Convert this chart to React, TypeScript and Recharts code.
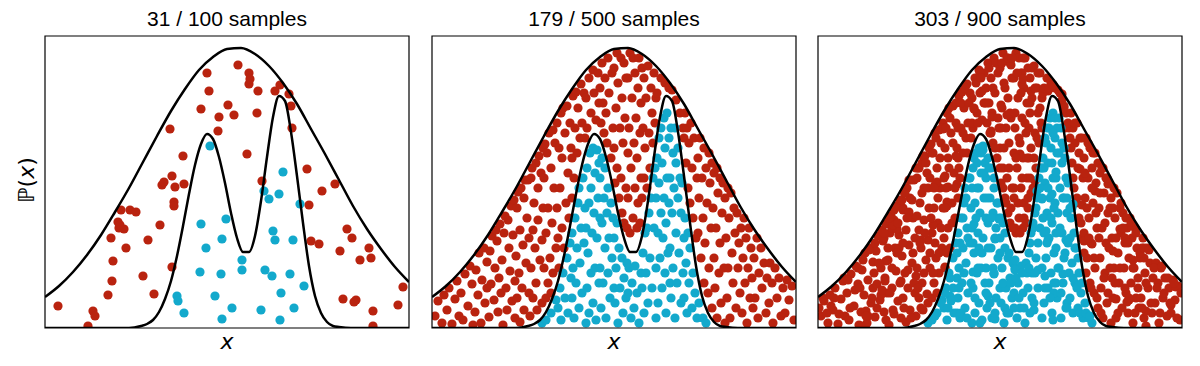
import React from "react";
import { ComposedChart, Scatter, Line, XAxis, YAxis, ReferenceArea } from "recharts";

const RED = "#b9230f";
const BLUE = "#13a9cc";

const PANEL_TITLES = ["31 / 100 samples", "179 / 500 samples", "303 / 900 samples"];

// proposal density (wide gaussian) and target density (two bumps)
const proposalCurve = [
  [0, 31], [14, 42], [28, 56], [42, 73], [56, 93], [70, 116], [84, 140], [98, 166], [112, 192],
  [126, 217], [140, 239], [154, 258], [168, 271], [182, 279], [196, 280], [210, 274], [224, 262],
  [238, 245], [252, 224], [266, 199], [280, 174], [294, 148], [308, 122], [322, 99], [336, 79],
  [350, 61], [364, 46],
];

const targetCurve = [
  [0, 0], [60, 0], [84, 0], [96, 2], [102, 4], [108, 8], [114, 16], [120, 29], [126, 47], [132, 72],
  [138, 102], [144, 134], [150, 163], [156, 184], [162, 194], [168, 189], [174, 171], [180, 145],
  [186, 115], [192, 90], [198, 76], [204, 76], [210, 92], [216, 127], [222, 171], [228, 211],
  [234, 232], [240, 227], [246, 196], [252, 152], [258, 105], [264, 62], [270, 32], [276, 15],
  [282, 6], [288, 2], [294, 1], [306, 0], [364, 0],
];

// first 100 samples
const firstRejected = [
  [162, 255], [164, 237], [156, 219], [183, 223], [174, 211], [173, 197], [125, 199], [138, 172], [127, 152],
  [117, 143], [130, 141], [139, 144], [129, 126], [76, 118], [85, 118], [91, 116], [73, 106], [74, 100],
  [79, 99], [115, 103], [66, 90], [103, 88], [81, 80], [68, 67], [127, 61], [98, 52], [67, 47], [109, 34],
  [63, 33], [13, 22], [48, 17], [50, 12], [43, 2],
  [193, 263], [204, 255], [204, 244], [213, 237], [230, 237], [235, 243], [244, 234], [246, 222], [189, 213],
  [212, 215], [247, 200], [202, 174], [262, 159], [217, 147], [290, 144], [277, 137], [264, 123], [302, 99],
  [307, 90], [266, 87], [274, 84], [295, 77], [324, 80], [315, 68], [326, 70], [358, 41], [298, 29], [311, 28],
  [353, 23], [328, 17], [328, 2],
  [119, 146], [75, 103], [205, 249], [309, 26], [129, 122],
];
const firstAccepted = [
  [165, 182], [156, 104], [181, 109], [177, 89], [161, 80], [155, 56], [176, 54], [132, 32], [133, 27],
  [170, 32], [139, 15], [177, 9], [187, 20], [238, 156], [219, 137], [224, 129], [234, 134], [255, 124],
  [228, 97], [230, 88], [248, 88], [197, 68], [197, 58], [220, 58], [227, 52], [245, 54], [259, 42],
  [236, 35], [216, 18], [249, 20], [235, 8],
];

// middle panel samples
const secondRejected = [
  [3, 12], [6, 27], [10, 5], [12, 33],
  [15, 18], [17, 40], [20, 4], [23, 29], [25, 47], [27, 12],
  [29, 35], [31, 8], [33, 54], [36, 22], [38, 62], [40, 44], [41, 3],
  [43, 16], [44, 58], [46, 33], [47, 75], [49, 5], [50, 48], [52, 80], [53, 25], [55, 66], [55, 40],
  [57, 11], [58, 77], [59, 44], [60, 92], [62, 28], [63, 60], [64, 98], [65, 87], [66, 16], [67, 50], [68, 104], [69, 35],
  [70, 68], [71, 3], [72, 95], [73, 112], [74, 40], [75, 18], [76, 108], [77, 80], [78, 57], [79, 122], [80, 27],
  [81, 93], [82, 128], [83, 47], [83, 10],
  [84, 72], [85, 120], [85, 30], [86, 136], [87, 55], [88, 6], [88, 98], [89, 140], [90, 40], [91, 83], [92, 130],
  [92, 18], [93, 148], [94, 65], [95, 110], [96, 148], [97, 35], [97, 90],
  [98, 12], [99, 150], [99, 60], [100, 160], [101, 98], [101, 30], [102, 125], [103, 80], [104, 165], [104, 45],
  [105, 18], [106, 140], [106, 108], [107, 172], [108, 68], [109, 155], [110, 25], [110, 88], [111, 180], [111, 120],
  [112, 60], [112, 150], [113, 184], [114, 95], [114, 30], [115, 175], [116, 120], [116, 45], [117, 195], [118, 70],
  [119, 160], [119, 35], [120, 105], [121, 198], [121, 55], [122, 140], [123, 185], [124, 80], [125, 205], [125, 120],
  [126, 90], [127, 180], [127, 60], [128, 140], [129, 215], [130, 100], [130, 170], [131, 220], [132, 80], [133, 195],
  [134, 125], [135, 222], [136, 155], [137, 110], [138, 205], [139, 180], [140, 130],
  [140, 170], [141, 232], [142, 150], [143, 200], [144, 236], [145, 175], [146, 220], [148, 190], [149, 244],
  [150, 205], [152, 235], [153, 190],
  [154, 230], [155, 200], [157, 250], [159, 215], [161, 258], [162, 235], [164, 208], [166, 255], [167, 225],
  [168, 240], [169, 205], [170, 265], [171, 225], [172, 195], [173, 250], [174, 215], [175, 185], [176, 270],
  [177, 235], [179, 170], [180, 255], [181, 200],
  [182, 180], [182, 260], [183, 145], [184, 220], [185, 275], [185, 160], [186, 245], [187, 130], [188, 200],
  [189, 270], [189, 150], [190, 230], [190, 115], [191, 185], [192, 265], [192, 105], [193, 210], [194, 140],
  [194, 250], [195, 100], [196, 175],
  [196, 130], [196, 250], [197, 200], [198, 95], [198, 275], [199, 160], [200, 230], [201, 110], [201, 270],
  [202, 185], [203, 140], [203, 255], [204, 210], [205, 100], [205, 170], [206, 240], [206, 125], [207, 270],
  [208, 195], [208, 105], [209, 150], [209, 225], [210, 260],
  [210, 130], [211, 200], [212, 250], [212, 150], [213, 180], [214, 230], [215, 140], [216, 262], [217, 195],
  [218, 160], [219, 240], [220, 215], [221, 185], [222, 255], [223, 205], [224, 230],
  [225, 235], [229, 250], [233, 245], [237, 240],
  [240, 238], [244, 228], [248, 215], [251, 200],
  [252, 190], [253, 215], [254, 165], [255, 200], [256, 140], [257, 185], [258, 125], [259, 205], [260, 160],
  [261, 110], [262, 190], [264, 90], [265, 150],
  [266, 95], [266, 170], [267, 130], [268, 190], [269, 70], [270, 150], [271, 110], [272, 180], [272, 45],
  [273, 85], [274, 160], [275, 125], [276, 35], [277, 175], [277, 60], [278, 145], [279, 100], [280, 165],
  [280, 20], [281, 120], [282, 70], [282, 155], [283, 40], [284, 100], [285, 160], [285, 10], [286, 135],
  [287, 55], [288, 150], [288, 85], [289, 25], [290, 115], [291, 145], [292, 60], [293, 5], [293, 130],
  [294, 90], [295, 30], [296, 140], [296, 60], [297, 110], [298, 10], [299, 135], [300, 75], [301, 45],
  [302, 120], [303, 95], [304, 20], [305, 115], [306, 60], [307, 85], [308, 35],
  [309, 100], [310, 15], [311, 70], [312, 110], [313, 45], [314, 90], [315, 5], [316, 60], [317, 100],
  [318, 30], [319, 80], [320, 50], [321, 20],
  [322, 70], [323, 30], [325, 90], [326, 10], [327, 55], [329, 80], [330, 40], [332, 65], [334, 15], [335, 50],
  [337, 25], [338, 65], [340, 45], [341, 5], [343, 60], [345, 30], [347, 50], [349, 12],
  [351, 40], [353, 15], [355, 48], [357, 28], [360, 42], [362, 8],
];
const secondAccepted = [
  [110, 5],
  [114, 8], [119, 15], [124, 28],
  [126, 20], [128, 40], [129, 8], [131, 55], [133, 30], [135, 70], [136, 15], [138, 85], [139, 50],
  [140, 30], [140, 95], [141, 60], [142, 10], [143, 110], [144, 45], [145, 80], [146, 125], [147, 20],
  [147, 140], [148, 65], [149, 100], [150, 35], [151, 150], [152, 85], [153, 120], [154, 5],
  [154, 100], [155, 40], [155, 160], [156, 75], [157, 125], [157, 15], [158, 175], [159, 55], [159, 140],
  [160, 95], [161, 25], [161, 180], [162, 115], [163, 60], [163, 155], [164, 8], [165, 90], [165, 178],
  [166, 130], [167, 45], [167, 165], [168, 110],
  [168, 60], [168, 150], [169, 20], [170, 105], [170, 170], [171, 45], [172, 130], [173, 80], [173, 160],
  [174, 10], [175, 115], [176, 55], [176, 140], [177, 90], [178, 30], [179, 125], [180, 70], [181, 110], [182, 40],
  [182, 90], [183, 25], [184, 60], [185, 105], [186, 5], [187, 80], [188, 40], [190, 70], [191, 15], [192, 50],
  [194, 30], [195, 65],
  [196, 35], [197, 60], [199, 10], [200, 45], [202, 20], [203, 62], [205, 35], [207, 5], [209, 55],
  [210, 40], [211, 75], [212, 15], [213, 95], [214, 55], [215, 100], [216, 25], [217, 115], [218, 70],
  [219, 130], [220, 40], [221, 150], [222, 100], [223, 160], [224, 10],
  [224, 130], [224, 60], [225, 170], [226, 95], [226, 25], [227, 145], [227, 190], [228, 70], [229, 115],
  [229, 200], [230, 40], [230, 165], [231, 90], [232, 210], [232, 130], [233, 55], [233, 180], [234, 15],
  [234, 105], [235, 215], [235, 150], [236, 75], [237, 190], [237, 125], [238, 45],
  [238, 150], [238, 80], [239, 200], [239, 30], [240, 115], [241, 175], [241, 60], [242, 140], [243, 200],
  [243, 10], [244, 95], [244, 165], [245, 45], [246, 130], [246, 180], [247, 75], [248, 150], [249, 25],
  [249, 115], [250, 145], [251, 55], [252, 90],
  [252, 30], [253, 110], [254, 65], [255, 15], [256, 95], [257, 45], [258, 80], [260, 20], [261, 55],
  [263, 35], [265, 10],
  [267, 25], [271, 10], [274, 5],
];

// extra samples for the last panel
const thirdRejected = [
  [1, 20], [5, 30], [9, 15],
  [16, 30], [21, 14], [26, 50],
  [30, 48], [32, 20], [37, 38], [40, 60],
  [42, 40], [45, 68], [48, 12], [51, 78], [54, 30], [56, 55],
  [57, 85], [59, 20], [61, 65], [64, 38], [66, 95], [68, 8], [70, 80],
  [71, 110], [72, 35], [74, 60], [76, 14], [77, 120], [79, 75], [80, 105], [82, 45], [84, 128],
  [85, 85], [86, 20], [87, 135], [89, 110], [90, 58], [91, 148], [93, 10], [94, 128], [95, 75], [96, 45], [98, 160],
  [99, 112], [100, 40], [101, 160], [102, 85], [103, 20], [104, 135], [105, 172], [106, 55], [107, 95],
  [108, 165], [110, 140], [112, 75],
  [113, 110], [114, 175], [115, 55], [116, 140], [117, 85], [118, 190], [120, 130], [121, 75], [122, 170],
  [123, 100], [124, 200], [126, 150],
  [127, 120], [128, 200], [129, 75], [131, 160], [132, 210], [134, 105], [135, 185], [137, 140], [138, 225], [140, 200],
  [141, 160], [143, 225], [145, 195], [147, 240], [149, 175], [151, 225], [154, 205],
  [156, 220], [158, 245], [160, 205], [163, 250], [166, 225],
  [169, 225], [171, 260], [173, 195], [175, 240], [177, 180], [178, 265], [180, 210], [182, 160],
  [183, 200], [184, 265], [185, 140], [186, 180], [187, 240], [188, 125], [190, 270], [191, 160], [192, 215],
  [193, 120], [194, 270], [196, 140],
  [197, 100], [197, 215], [198, 170], [199, 255], [200, 125], [201, 190], [202, 95], [203, 235], [204, 150],
  [205, 270], [206, 110], [207, 205], [209, 170], [210, 120],
  [211, 170], [212, 225], [213, 135], [214, 260], [216, 170], [217, 240], [219, 190], [220, 255], [222, 220], [224, 200],
  [226, 240], [231, 240], [235, 243],
  [242, 235], [246, 220], [250, 205],
  [253, 180], [255, 150], [257, 205], [259, 130], [261, 175], [263, 105], [264, 190], [266, 75],
  [267, 155], [268, 55], [269, 120], [270, 185], [271, 90], [273, 40], [274, 140], [275, 175], [276, 70],
  [278, 115], [279, 30],
  [281, 90], [282, 135], [283, 15], [284, 160], [286, 50], [287, 105], [289, 150], [290, 35], [291, 80],
  [292, 120], [294, 50],
  [295, 120], [297, 45], [298, 90], [300, 15], [302, 60], [303, 125], [305, 100], [307, 40], [308, 110],
  [310, 85], [311, 30], [313, 106], [315, 60], [317, 15], [318, 95], [320, 40], [322, 75],
  [324, 20], [326, 80], [328, 45], [331, 78], [333, 25], [336, 60],
  [339, 40], [342, 15], [344, 62], [346, 35], [350, 50],
  [352, 25], [356, 45], [359, 10], [363, 35],
];
const thirdAccepted = [
  [117, 12], [123, 25],
  [127, 35], [130, 20], [132, 50], [135, 40], [139, 75],
  [141, 40], [142, 85], [143, 15], [145, 110], [146, 55], [148, 130], [149, 10], [150, 90], [152, 150], [153, 45],
  [154, 140], [155, 85], [156, 170], [157, 30], [158, 110], [159, 165], [160, 60], [161, 140], [162, 5],
  [163, 175], [164, 75], [166, 155], [168, 35],
  [169, 130], [170, 80], [171, 160], [172, 25], [173, 110], [175, 60], [176, 150], [177, 15], [178, 100],
  [180, 125], [182, 75],
  [183, 110], [185, 45], [187, 95], [189, 15], [191, 75], [193, 45], [196, 20],
  [198, 50], [201, 30], [204, 55], [206, 20], [208, 65],
  [211, 60], [212, 85], [214, 30], [215, 105], [217, 55], [218, 120], [220, 85], [222, 140], [224, 160],
  [225, 110], [226, 160], [227, 40], [228, 185], [229, 85], [230, 140], [231, 200], [232, 30], [233, 110],
  [234, 165], [235, 195], [236, 45], [236, 120], [237, 210], [238, 95],
  [239, 175], [240, 60], [241, 210], [242, 100], [243, 35], [244, 185], [245, 130], [246, 70], [247, 170],
  [248, 20], [249, 130], [250, 85], [252, 120],
  [254, 120], [255, 50], [257, 80], [259, 40], [260, 70], [262, 15], [264, 45],
  [268, 15], [272, 12],
];

const toPts = (arr: number[][]) => arr.map(([x, y]) => ({ x, y }));

const PLOT_W = 364;
const PLOT_H = 292;
const PAD = 8;

const panels = [
  { title: PANEL_TITLES[0], left: 45, rejected: firstRejected, accepted: firstAccepted },
  { title: PANEL_TITLES[1], left: 432, rejected: secondRejected, accepted: secondAccepted },
  {
    title: PANEL_TITLES[2],
    left: 818,
    rejected: [...secondRejected, ...firstRejected, ...thirdRejected],
    accepted: [...secondAccepted, ...firstAccepted, ...thirdAccepted],
  },
];

const dot = (color: string) => (props: any) =>
  <circle cx={props.cx} cy={props.cy} r={4.6} fill={color} />;

function Panel({ title, left, rejected, accepted }: any) {
  return (
    <>
      <div
        style={{
          position: "absolute",
          left,
          top: 7,
          width: PLOT_W,
          textAlign: "center",
          fontFamily: "'Liberation Sans', Arial, sans-serif",
          fontSize: 21,
          lineHeight: "24px",
          color: "#000",
        }}
      >
        {title}
      </div>
      <div style={{ position: "absolute", left: left - PAD, top: 0 }}>
        <ComposedChart
          width={PLOT_W + PAD * 2}
          height={366}
          margin={{ top: 36, right: PAD, bottom: 366 - 36 - PLOT_H, left: PAD }}
        >
          <XAxis type="number" dataKey="x" domain={[0, 364]} hide allowDataOverflow />
          <YAxis type="number" dataKey="y" domain={[0, 292]} hide allowDataOverflow />
          <Scatter data={toPts(rejected)} fill={RED} shape={dot(RED)} isAnimationActive={false} />
          <Scatter data={toPts(accepted)} fill={BLUE} shape={dot(BLUE)} isAnimationActive={false} />
          <Line
            data={toPts(proposalCurve)}
            dataKey="y"
            type="monotone"
            stroke="#000"
            strokeWidth={2.5}
            dot={false}
            activeDot={false}
            isAnimationActive={false}
            zIndex={700}
          />
          <Line
            data={toPts(targetCurve)}
            dataKey="y"
            type="monotone"
            stroke="#000"
            strokeWidth={2.5}
            dot={false}
            activeDot={false}
            isAnimationActive={false}
            zIndex={700}
          />
          <ReferenceArea
            x1={0}
            x2={364}
            y1={0}
            y2={292}
            fill="none"
            stroke="#000"
            strokeWidth={1.2}
            ifOverflow="visible"
            zIndex={800}
          />
        </ComposedChart>
      </div>
      <div
        style={{
          position: "absolute",
          left,
          top: 329,
          width: PLOT_W,
          textAlign: "center",
          fontFamily: "'DejaVu Sans', sans-serif",
          fontStyle: "italic",
          fontSize: 22,
          lineHeight: "26px",
        }}
      >
        x
      </div>
    </>
  );
}

export default function App() {
  return (
    <div style={{ position: "absolute", left: 0, top: 0, width: 1200, height: 366, background: "#fff" }}>
      {panels.map((p) => (
        <Panel key={p.title} {...p} />
      ))}
      <div
        style={{
          position: "absolute",
          left: 27,
          top: 180,
          transform: "translate(-50%, -50%) rotate(-90deg)",
          fontFamily: "'DejaVu Sans', sans-serif",
          fontSize: 22,
          lineHeight: "26px",
          whiteSpace: "nowrap",
        }}
      >
        ℙ(<i>x</i>)
      </div>
    </div>
  );
}
